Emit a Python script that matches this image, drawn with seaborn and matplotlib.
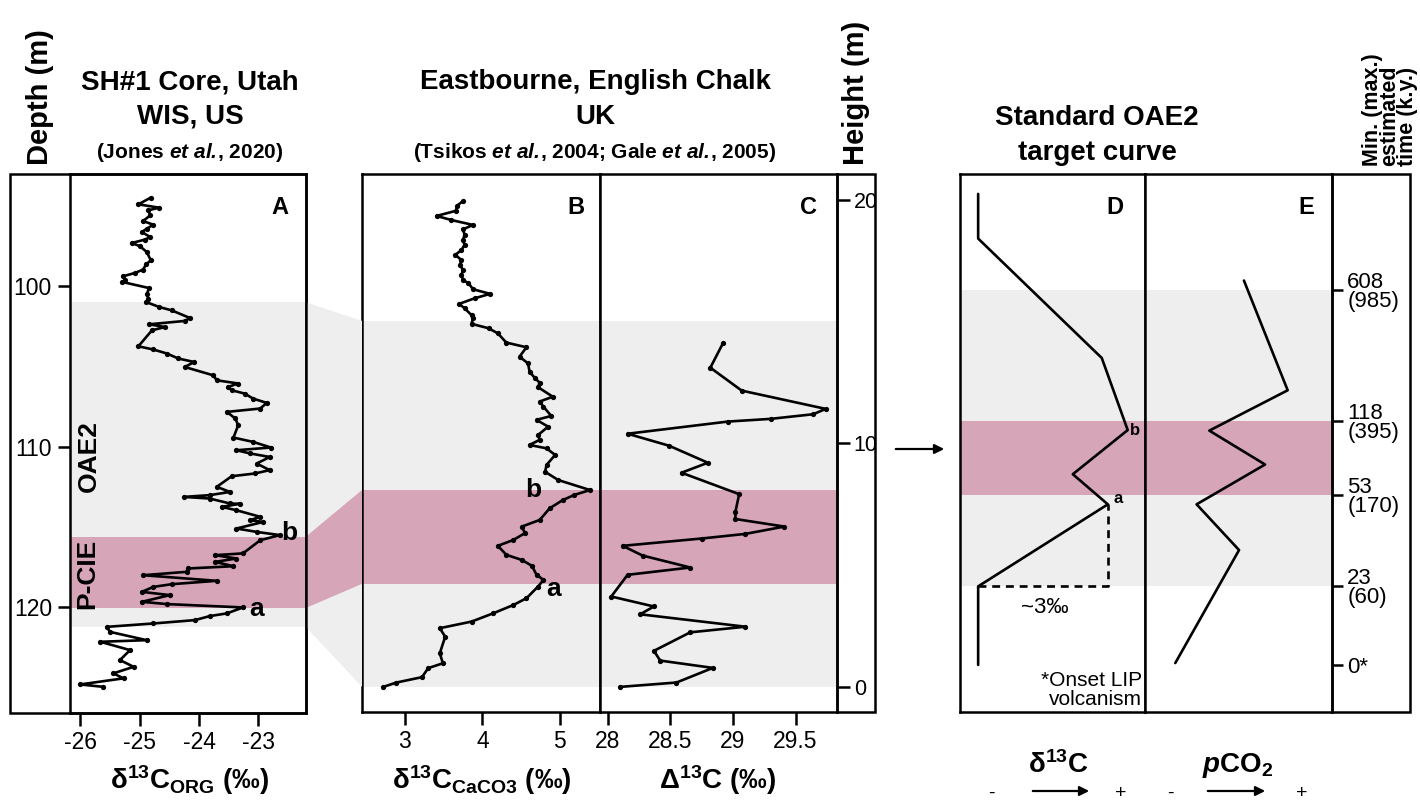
import matplotlib
matplotlib.use("Agg")
import matplotlib.pyplot as plt
import seaborn as sns
import pandas as pd
from matplotlib.patches import Rectangle, Polygon, FancyArrowPatch

# ---------------- data ----------------
# Panel A: SH#1 core, depth (m) vs d13C_org (permil)
A_depth = [94.47, 94.89, 95.10, 95.26, 95.58, 95.93, 96.16, 96.41, 96.62, 96.93,
           97.09, 97.30, 97.51, 97.86, 98.38, 98.63, 98.96, 99.17, 99.38, 99.63,
           99.73, 100.11, 100.50, 100.77, 100.98, 101.29, 101.50, 101.98, 102.16, 102.37,
           102.54, 102.74, 103.74, 103.94, 104.19, 104.50, 104.72, 105.03, 105.55, 105.86,
           106.06, 106.27, 106.48, 106.69, 107.00, 107.27, 107.62, 107.83, 108.24, 108.66,
           109.43, 109.70, 110.05, 110.22, 110.42, 110.64, 111.05, 111.46, 111.67, 111.84,
           112.50, 112.82, 113.02, 113.13, 113.23, 113.54, 113.56, 113.75, 113.96, 114.37,
           114.58, 114.69, 115.10, 115.31, 115.51, 115.83, 116.65, 116.76, 116.97, 117.18,
           117.45, 117.59, 117.80, 118.01, 118.36, 118.57, 118.74, 119.05, 119.25, 119.67,
           119.81, 120.02, 120.39, 120.56, 120.81, 121.02, 121.23, 121.54, 122.06, 122.16,
           122.68, 123.30, 123.72, 124.13, 124.44, 124.82, 124.97]
A_d13c = [-24.81, -25.02, -24.67, -24.85, -24.82, -24.94, -24.77, -24.88, -24.96, -24.82,
          -24.91, -25.13, -24.99, -24.88, -24.81, -24.89, -24.94, -25.08, -25.28, -25.24,
          -25.29, -24.84, -24.88, -24.85, -24.89, -24.67, -24.46, -24.15, -24.24, -24.84,
          -24.57, -24.79, -25.02, -24.77, -24.54, -24.35, -24.08, -24.24, -23.76, -23.70,
          -23.34, -23.51, -23.45, -23.23, -23.09, -22.86, -22.97, -23.53, -23.39, -23.34,
          -23.42, -23.09, -22.79, -23.37, -23.14, -22.81, -23.03, -22.81, -23.06, -23.45,
          -23.70, -23.48, -23.82, -24.26, -23.82, -23.48, -23.31, -23.62, -23.37, -22.97,
          -23.14, -22.92, -23.37, -23.03, -22.64, -22.97, -23.26, -23.73, -23.37, -23.73,
          -23.42, -24.18, -24.21, -24.94, -23.70, -24.46, -24.77, -24.96, -24.49, -24.96,
          -24.54, -23.26, -23.53, -23.82, -24.07, -24.77, -25.55, -25.50, -24.88, -25.66,
          -25.16, -25.33, -25.10, -25.44, -25.27, -26.00, -25.61]

# Panel B: Eastbourne, height (m) vs d13C_carb (permil)
B_height = [19.94, 19.74, 19.54, 19.33, 19.16, 18.96, 18.78, 18.55, 18.34, 18.14,
            17.93, 17.73, 17.52, 17.32, 17.11, 16.91, 16.70, 16.57, 16.32, 16.13,
            15.95, 15.72, 15.54, 15.26, 15.13, 14.90, 14.72, 14.51, 14.13, 13.94,
            13.55, 13.28, 12.94, 12.67, 12.49, 12.30, 11.91, 11.71, 11.50, 11.12,
            10.96, 10.68, 10.34, 10.14, 9.93, 9.79, 9.52, 9.11, 8.83, 8.49,
            8.08, 7.88, 7.67, 7.33, 6.85, 6.58, 6.31, 6.03, 5.79, 5.42,
            5.21, 4.97, 4.60, 4.39, 4.12, 3.64, 3.36, 3.02, 2.68, 2.41,
            2.06, 1.38, 0.97, 0.77, 0.40, 0.18, 0.0]
B_d13c = [3.75, 3.67, 3.66, 3.41, 3.60, 3.88, 3.75, 3.77, 3.75, 3.77,
          3.73, 3.65, 3.73, 3.71, 3.75, 3.73, 3.75, 3.82, 3.88, 4.10,
          3.90, 3.70, 3.77, 3.86, 3.88, 3.86, 4.08, 4.20, 4.31, 4.57,
          4.48, 4.59, 4.61, 4.68, 4.74, 4.72, 4.91, 4.74, 4.79, 4.89,
          4.70, 4.85, 4.72, 4.74, 4.61, 4.83, 4.94, 4.83, 4.81, 4.98,
          5.39, 5.19, 5.04, 4.87, 4.74, 4.51, 4.55, 4.40, 4.20, 4.31,
          4.51, 4.64, 4.70, 4.79, 4.72, 4.57, 4.40, 4.14, 3.86, 3.45,
          3.52, 3.45, 3.49, 3.30, 3.22, 2.89, 2.72]

# Panel C: Eastbourne, height (m) vs Delta13C (permil)
C_height = [14.10, 13.10, 12.16, 11.41, 11.19, 11.00, 10.89, 10.39, 9.90, 9.20,
            8.79, 7.91, 7.19, 6.89, 6.58, 6.28, 6.09, 5.79, 5.39, 4.90,
            4.60, 3.71, 3.30, 2.98, 2.47, 2.24, 1.48, 1.08, 0.78, 0.18, 0.0]
C_D13c = [28.92, 28.82, 29.07, 29.74, 29.64, 29.30, 28.96, 28.16, 28.49, 28.80,
          28.59, 29.05, 29.02, 29.02, 29.41, 29.10, 28.75, 28.12, 28.28, 28.66,
          28.16, 28.03, 28.37, 28.26, 29.10, 28.66, 28.37, 28.42, 28.84, 28.55, 28.10]

# Panels D/E: standard OAE2 target curve (relative stratigraphic level)
D_level = [96.3, 88.0, 65.8, 52.4, 44.2, 38.6, 23.35, 8.75]
D_d13c = [0.0, 0.0, 2.86, 3.46, 2.19, 3.0, 0.0, 0.0]
E_level = [80.2, 59.8, 52.3, 46.0, 38.6, 30.1, 9.1]
E_pco2 = [5.29, 7.63, 3.44, 6.42, 2.76, 5.03, 1.62]

time_levels = [8.75, 23.35, 40.26, 54.05, 78.38]
time_labels = ["0*", "23\n(60)", "53\n(170)", "118\n(395)", "608\n(985)"]

# intervals
A_oae2 = (101.0, 121.25)
A_pcie = (115.6, 120.05)
BC_oae2 = (0.0, 15.02)
BC_pcie = (4.23, 8.08)
DE_oae2 = (23.35, 78.38)
DE_pcie = (40.26, 54.05)

A_ticks = [-26, -25, -24, -23]
B_ticks = [3, 4, 5]
C_ticks = [28, 28.5, 29, 29.5]
C_ticklabels = ["28", "28.5", "29", "29.5"]
H_ticks = [0, 10, 20]
Dep_ticks = [100, 110, 120]

# ---------------- style ----------------
sns.set_style("ticks")
plt.rcParams['font.family'] = ['Liberation Sans', 'DejaVu Sans']
plt.rcParams.update({
    'axes.unicode_minus': False,
    'mathtext.fontset': 'custom',
    'mathtext.rm': 'Liberation Sans',
    'mathtext.it': 'Liberation Sans:italic',
    'mathtext.bf': 'Liberation Sans:bold',
    'mathtext.bfit': 'Liberation Sans:italic:bold',
    'mathtext.default': 'regular',
    'axes.edgecolor': 'black',
    'axes.linewidth': 1.8,
    'xtick.color': 'black',
    'ytick.color': 'black',
    'xtick.labelcolor': 'black',
    'ytick.labelcolor': 'black',
    'text.color': 'black',
    'axes.labelcolor': 'black',
})

GREY = '#EEEEEE'
PINK = '#D6A5B8'
LW = 1.8
W, H = 1420, 800
fig = plt.figure(figsize=(W / 100, H / 100), dpi=100)


def fx(px):
    return px / W


def fy(py):
    return 1 - py / H


def ax_at(x0, x1, y0, y1):
    return fig.add_axes([fx(x0), fy(y1), (x1 - x0) / W, (y1 - y0) / H])


def frame(x0, x1, y0, y1):
    fig.patches.append(Rectangle((fx(x0), fy(y1)), (x1 - x0) / W, (y1 - y0) / H,
                                 transform=fig.transFigure, fill=False,
                                 lw=LW, ec='black', zorder=0.5))


def ftext(px, py, s, **kw):
    fig.text(fx(px), fy(py), s, **kw)


line_kw = dict(color='black', lw=1.9, marker='o', markersize=3.8,
               markeredgewidth=0, sort=False, estimator=None, orient='y')

# ---------------- Panel A ----------------
axA = ax_at(70, 306, 174, 713)
axA.axhspan(*A_oae2, color=GREY, lw=0, zorder=0)
axA.axhspan(*A_pcie, color=PINK, lw=0, zorder=0.1)
sns.lineplot(x=A_d13c, y=A_depth, ax=axA, **line_kw)
axA.set_xlim(-26.17, -22.2)
axA.set_ylim(126.6, 93.0)
axA.set_xticks(A_ticks)
axA.set_xticklabels([str(t) for t in A_ticks])
axA.set_yticks(Dep_ticks)
axA.tick_params(axis='both', labelsize=16.5, length=9, width=1.8, direction='out', pad=4)
axA.text(0.89, 0.96, 'A', transform=axA.transAxes, fontsize=17, fontweight='bold',
         ha='center', va='top')
axA.text(-22.62, 115.4, 'b', fontsize=19, fontweight='bold', ha='left', va='center')
axA.text(-23.15, 120.1, 'a', fontsize=19, fontweight='bold', ha='left', va='center')
axA.text(-26.05, 110.6, 'OAE2', rotation=90, fontsize=19, fontweight='bold',
         ha='left', va='center')
axA.text(-26.08, 117.9, 'P-CIE', rotation=90, fontsize=19, fontweight='bold',
         ha='left', va='center')
frame(10, 306, 174, 713)

# ---------------- Panel B ----------------
axB = ax_at(362, 600, 174, 712)
axB.axhspan(*BC_oae2, color=GREY, lw=0, zorder=0)
axB.axhspan(*BC_pcie, color=PINK, lw=0, zorder=0.1)
sns.lineplot(x=B_d13c, y=B_height, ax=axB, **line_kw)
axB.set_xlim(2.445, 5.52)
axB.set_ylim(-1.03, 21.05)
axB.set_xticks(B_ticks)
axB.set_yticks([])
axB.tick_params(axis='x', labelsize=16.5, length=9, width=1.8, direction='out', pad=4)
axB.text(0.9, 0.96, 'B', transform=axB.transAxes, fontsize=17, fontweight='bold',
         ha='center', va='top')
axB.text(4.56, 8.1, 'b', fontsize=19, fontweight='bold', ha='left', va='center')
axB.text(4.82, 4.0, 'a', fontsize=19, fontweight='bold', ha='left', va='center')

# ---------------- Panel C ----------------
axC = ax_at(600, 837, 174, 712)
axC.axhspan(*BC_oae2, color=GREY, lw=0, zorder=0)
axC.axhspan(*BC_pcie, color=PINK, lw=0, zorder=0.1)
sns.lineplot(x=C_D13c, y=C_height, ax=axC, **line_kw)
axC.set_xlim(27.94, 29.83)
axC.set_ylim(-1.03, 21.05)
axC.set_xticks(C_ticks)
axC.set_xticklabels(C_ticklabels)
axC.set_yticks(H_ticks)
axC.yaxis.tick_right()
axC.tick_params(axis='both', labelsize=16.5, length=9, width=1.8, direction='out', pad=4)
axC.tick_params(axis='y', labelsize=15.5, pad=3)
axC.text(0.88, 0.96, 'C', transform=axC.transAxes, fontsize=17, fontweight='bold',
         ha='center', va='top')
frame(837, 875, 174, 712)

# connecting trapezoids between A and B
fig.canvas.draw()
inv = fig.transFigure.inverted()
for (a0, a1), (b0, b1), col, z in [(A_oae2, BC_oae2, GREY, 0.1), (A_pcie, BC_pcie, PINK, 0.2)]:
    xa = axA.get_xlim()[1]
    xb = axB.get_xlim()[0]
    pa0 = inv.transform(axA.transData.transform((xa, a0)))
    pa1 = inv.transform(axA.transData.transform((xa, a1)))
    pb0 = inv.transform(axB.transData.transform((xb, b0)))
    pb1 = inv.transform(axB.transData.transform((xb, b1)))
    fig.patches.append(Polygon([pa0, pb1, pb0, pa1], closed=True, transform=fig.transFigure,
                               fc=col, ec='none', zorder=z))

# ---------------- Panel D ----------------
axD = ax_at(960, 1145, 174, 712)
axD.axhspan(*DE_oae2, color=GREY, lw=0, zorder=0)
axD.axhspan(*DE_pcie, color=PINK, lw=0, zorder=0.1)
sns.lineplot(x=D_d13c, y=D_level, ax=axD, color='black', lw=1.9, sort=False,
             estimator=None, orient='y')
axD.plot([D_d13c[6], D_d13c[5], D_d13c[5]], [D_level[6], D_level[6], D_level[5]],
         color='black', lw=1.9, ls=(0, (3, 2.2)))
axD.set_xlim(-0.42, 3.86)
axD.set_ylim(0, 100)
axD.set_xticks([])
axD.set_yticks([])
axD.text(0.84, 0.96, 'D', transform=axD.transAxes, fontsize=17, fontweight='bold',
         ha='center', va='top')
axD.text(3.5, 52.3, 'b', fontsize=12, fontweight='bold', ha='left', va='center')
axD.text(3.12, 39.6, 'a', fontsize=12, fontweight='bold', ha='left', va='center')
axD.text(1.55, 19.4, '~3‰', fontsize=16, ha='center', va='center')
axD.text(0.985, 0.005, '*Onset LIP\nvolcanism', transform=axD.transAxes, fontsize=15,
         ha='right', va='bottom', multialignment='right', linespacing=1.0)

# ---------------- Panel E ----------------
axE = ax_at(1145, 1332, 174, 712)
axE.axhspan(*DE_oae2, color=GREY, lw=0, zorder=0)
axE.axhspan(*DE_pcie, color=PINK, lw=0, zorder=0.1)
sns.lineplot(x=E_pco2, y=E_level, ax=axE, color='black', lw=1.9, sort=False,
             estimator=None, orient='y')
axE.set_xlim(0, 10)
axE.set_ylim(0, 100)
axE.set_xticks([])
axE.set_yticks(time_levels)
axE.set_yticklabels(time_labels, linespacing=0.9)
axE.yaxis.tick_right()
axE.tick_params(axis='y', labelsize=16, length=8, width=1.8, direction='out', pad=3)
axE.text(0.86, 0.96, 'E', transform=axE.transAxes, fontsize=17, fontweight='bold',
         ha='center', va='top')
frame(1332, 1410, 174, 712)

# arrow between C and D
fig.patches.append(FancyArrowPatch(
    (fx(893), fy(449)), (fx(947), fy(449)), transform=fig.transFigure,
    arrowstyle='-|>', mutation_scale=14, lw=1.6, color='black'))

# ---------------- header texts ----------------
ftext(40, 165, 'Depth (m)', rotation=90, fontsize=21, fontweight='bold', ha='center', va='bottom')
ftext(190, 82, 'SH#1 Core, Utah', fontsize=20, fontweight='bold', ha='center', va='center')
ftext(190, 117, 'WIS, US', fontsize=20, fontweight='bold', ha='center', va='center')
ftext(190, 153, r'(Jones $\mathbfit{et\ al.}\!$, 2020)', fontsize=15, fontweight='bold',
      ha='center', va='center')
ftext(595, 82, 'Eastbourne, English Chalk', fontsize=20, fontweight='bold', ha='center', va='center')
ftext(595, 117, 'UK', fontsize=20, fontweight='bold', ha='center', va='center')
ftext(595, 153, r'(Tsikos $\mathbfit{et\ al.}\!$, 2004; Gale $\mathbfit{et\ al.}\!$, 2005)',
      fontsize=15, fontweight='bold', ha='center', va='center')
ftext(856, 165, 'Height (m)', rotation=90, fontsize=21, fontweight='bold', ha='center', va='bottom')
ftext(1097, 118, 'Standard OAE2', fontsize=20, fontweight='bold', ha='center', va='center')
ftext(1097, 153, 'target curve', fontsize=20, fontweight='bold', ha='center', va='center')
ftext(1390, 166, 'Min. (max.)\nestimated\ntime (k.y.)', rotation=90, fontsize=15.5,
      fontweight='bold', ha='center', va='bottom', multialignment='left', linespacing=0.8)

# ---------------- bottom axis titles ----------------
ftext(190, 780, r'$\mathbf{δ^{13}C_{ORG}}$ (‰)', fontsize=20, fontweight='bold',
      ha='center', va='center')
ftext(482, 780, r'$\mathbf{δ^{13}C_{CaCO3}}$ (‰)', fontsize=20, fontweight='bold',
      ha='center', va='center')
ftext(718, 780, r'$\mathbf{Δ^{13}C}$ (‰)', fontsize=20, fontweight='bold',
      ha='center', va='center')
ftext(1058, 765, r'$\mathbf{δ^{13}C}$', fontsize=20, fontweight='bold', ha='center', va='center')
ftext(1238, 765, r'$\mathbfit{p}\mathbf{CO_2}$', fontsize=20, fontweight='bold',
      ha='center', va='center')
for (x0, x1) in [(1030, 1092), (1205, 1268)]:
    fig.patches.append(FancyArrowPatch(
        (fx(x0), fy(791)), (fx(x1), fy(791)), transform=fig.transFigure,
        arrowstyle='-|>', mutation_scale=14, lw=1.6, color='black'))
for (px, s) in [(991, '-'), (1121, '+'), (1170, '-'), (1302, '+')]:
    ftext(px, 793, s, fontsize=14, ha='center', va='center')

fig.savefig('out.png', dpi=100)
